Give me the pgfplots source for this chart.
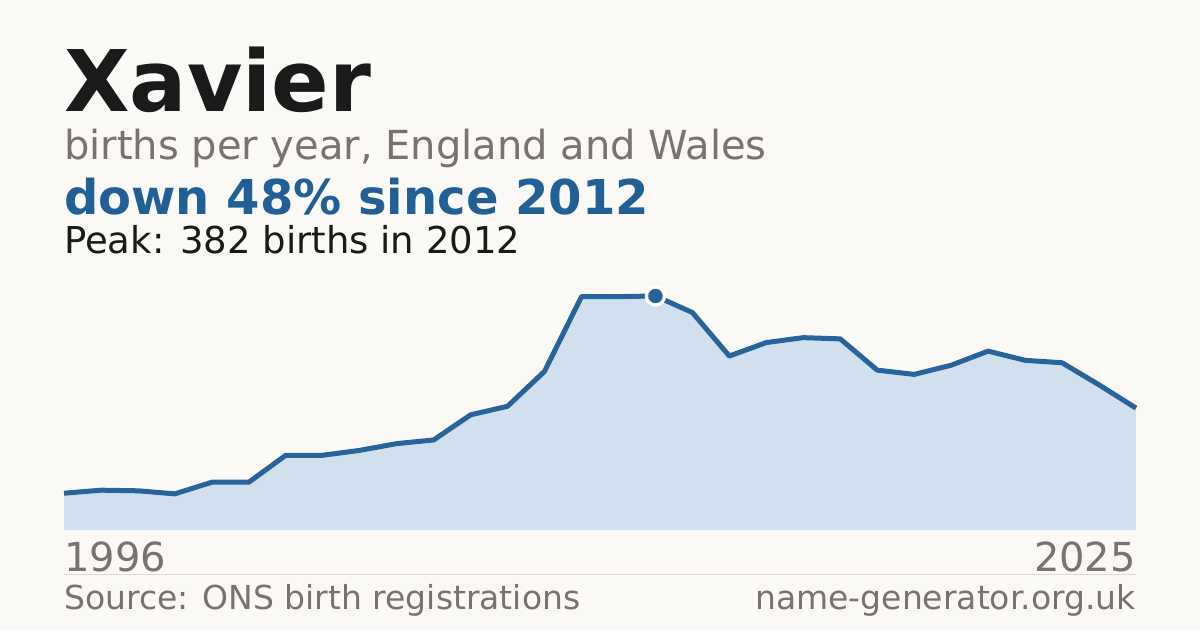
\documentclass[border=0pt]{standalone}
\usepackage{pgfplots}
\pgfplotsset{compat=1.18}
\usepackage{fontspec}
\setmainfont{DejaVu Sans}
\definecolor{bg}{RGB}{250,249,245}
\definecolor{areafill}{RGB}{208,224,239}
\definecolor{linec}{RGB}{38,100,155}
\definecolor{accent}{RGB}{33,96,150}
\definecolor{graytxt}{RGB}{120,115,108}
\definecolor{titlec}{RGB}{26,26,26}
\definecolor{sep}{RGB}{221,218,213}
\pgfplotstableread{
year births
1996 60
1997 65
1998 64
1999 59
2000 78
2001 78
2002 122
2003 122
2004 130
2005 141
2006 147
2007 188
2008 202
2009 259
2010 381
2011 381
2012 382
2013 355
2014 284
2015 306
2016 314
2017 312
2018 261
2019 254
2020 269
2021 292
2022 277
2023 273
2024 237
2025 199
}\births
\begin{document}
\begin{tikzpicture}[x=1pt,y=1pt]
\fill[bg] (0,0) rectangle (1200,630);
\node[anchor=base west, inner sep=0pt, text=titlec, font=\fontsize{85}{85}\selectfont\bfseries] at (64,518) {Xavier};
\node[anchor=base west, inner sep=0pt, text=graytxt, font=\fontsize{40}{40}\selectfont] at (64,470) {births per year, England and Wales};
\node[anchor=base west, inner sep=0pt, text=accent, font=\fontsize{48}{48}\selectfont\bfseries] at (64,415) {down 48\% since 2012};
\node[anchor=base west, inner sep=0pt, text=titlec, font=\fontsize{37}{37}\selectfont] at (64,376) {Peak: 382 births in 2012};
\begin{axis}[
  at={(64pt,100pt)}, anchor=south west,
  scale only axis, width=1072pt, height=234pt,
  xmin=1996, xmax=2025, ymin=0, ymax=382,
  hide axis, clip=false,
]
\addplot[fill=areafill, draw=none] table[x=year,y=births] {\births} \closedcycle;
\addplot[linec, line width=5pt, line join=round] table[x=year,y=births] {\births};
\addplot[white, only marks, mark=*, mark size=10.5pt] coordinates {(2012,382)};
\addplot[linec, only marks, mark=*, mark size=7pt] coordinates {(2012,382)};
\end{axis}
\node[anchor=base west, inner sep=0pt, text=graytxt, font=\fontsize{40}{40}\selectfont] at (64,59) {1996};
\node[anchor=base east, inner sep=0pt, text=graytxt, font=\fontsize{40}{40}\selectfont] at (1136,59) {2025};
\draw[sep, line width=1pt] (64,56) -- (1136,56);
\node[anchor=base west, inner sep=0pt, text=graytxt, font=\fontsize{33}{33}\selectfont] at (64,21) {Source: ONS birth registrations};
\node[anchor=base east, inner sep=0pt, text=graytxt, font=\fontsize{33}{33}\selectfont] at (1136,21) {name-generator.org.uk};
\pgfresetboundingbox
\path[use as bounding box] (0,0) rectangle (1200,630);
\end{tikzpicture}
\end{document}
